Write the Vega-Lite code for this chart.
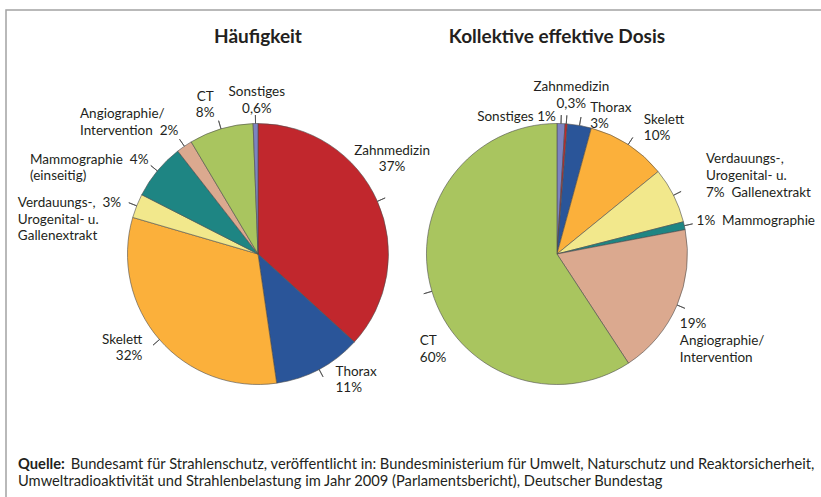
{
  "$schema": "https://vega.github.io/schema/vega-lite/v6.json",
  "width": 821,
  "height": 497,
  "autosize": {"type": "fit", "contains": "padding"},
  "padding": {"left": 6, "top": 10, "right": -3, "bottom": -1},
  "background": "white",
  "config": {"view": {"stroke": "#a3a3a3", "strokeWidth": 1.5}, "font": "Lato"},
  "title": {
    "text": "Quelle:",
    "subtitle": ["\u200b\u00a0\u00a0\u00a0\u00a0\u00a0\u00a0\u00a0\u00a0\u00a0\u00a0\u00a0\u00a0\u00a0\u00a0Bundesamt für Strahlenschutz, veröffentlicht in: Bundesministerium für Umwelt, Naturschutz und Reaktorsicherheit,", "Umweltradioaktivität und Strahlenbelastung im Jahr 2009 (Parlamentsbericht), Deutscher Bundestag"],
    "orient": "bottom",
    "anchor": "start",
    "frame": "group",
    "offset": -41,
    "dx": 12,
    "font": "Lato",
    "fontSize": 14.7,
    "fontWeight": "bold",
    "color": "#231f20",
    "lineHeight": 17,
    "subtitleFont": "Lato",
    "subtitleFontSize": 14.7,
    "subtitleFontWeight": "normal",
    "subtitleColor": "#231f20",
    "subtitleLineHeight": 17,
    "subtitlePadding": -14.7
  },
  "data": {
    "values": [
      {"diagramm": "Häufigkeit", "kategorie": "Zahnmedizin", "anteil": 37, "reihenfolge": 1, "beschriftung": "Zahnmedizin\n37%"},
      {"diagramm": "Häufigkeit", "kategorie": "Thorax", "anteil": 11, "reihenfolge": 2, "beschriftung": "Thorax\n11%"},
      {"diagramm": "Häufigkeit", "kategorie": "Skelett", "anteil": 32, "reihenfolge": 3, "beschriftung": "Skelett\n32%"},
      {"diagramm": "Häufigkeit", "kategorie": "Verdauungs-, Urogenital- u. Gallenextrakt", "anteil": 3, "reihenfolge": 4, "beschriftung": "Verdauungs-,\u00a0 3%\nUrogenital- u.\nGallenextrakt"},
      {"diagramm": "Häufigkeit", "kategorie": "Mammographie", "anteil": 7, "reihenfolge": 5, "beschriftung": "Mammographie\u00a0 4%\n(einseitig)"},
      {"diagramm": "Häufigkeit", "kategorie": "Angiographie/Intervention", "anteil": 2, "reihenfolge": 6, "beschriftung": "Angiographie/\nIntervention\u00a0 2%"},
      {"diagramm": "Häufigkeit", "kategorie": "CT", "anteil": 8, "reihenfolge": 7, "beschriftung": "CT\n8%"},
      {"diagramm": "Häufigkeit", "kategorie": "Sonstiges", "anteil": 0.6, "reihenfolge": 8, "beschriftung": "Sonstiges\n0,6%"},
      {"diagramm": "Kollektive effektive Dosis", "kategorie": "Sonstiges", "anteil": 1, "reihenfolge": 1, "beschriftung": "Sonstiges 1%"},
      {"diagramm": "Kollektive effektive Dosis", "kategorie": "Zahnmedizin", "anteil": 0.3, "reihenfolge": 2, "beschriftung": "Zahnmedizin\n0,3%"},
      {"diagramm": "Kollektive effektive Dosis", "kategorie": "Thorax", "anteil": 3, "reihenfolge": 3, "beschriftung": "Thorax\n3%"},
      {"diagramm": "Kollektive effektive Dosis", "kategorie": "Skelett", "anteil": 10, "reihenfolge": 4, "beschriftung": "Skelett\n10%"},
      {"diagramm": "Kollektive effektive Dosis", "kategorie": "Verdauungs-, Urogenital- u. Gallenextrakt", "anteil": 7, "reihenfolge": 5, "beschriftung": "Verdauungs-,\nUrogenital- u.\n7%\u00a0 Gallenextrakt"},
      {"diagramm": "Kollektive effektive Dosis", "kategorie": "Mammographie", "anteil": 1, "reihenfolge": 6, "beschriftung": "1%\u00a0 Mammographie"},
      {"diagramm": "Kollektive effektive Dosis", "kategorie": "Angiographie/Intervention", "anteil": 19, "reihenfolge": 7, "beschriftung": "19%\nAngiographie/\nIntervention"},
      {"diagramm": "Kollektive effektive Dosis", "kategorie": "CT", "anteil": 60, "reihenfolge": 8, "beschriftung": "CT\n60%"}
    ]
  },
  "resolve": {"scale": {"theta": "independent"}},
  "layer": [
    {
      "transform": [
        {"stack": "anteil", "groupby": ["diagramm"], "sort": [{"field": "reihenfolge", "order": "ascending"}], "offset": "normalize", "as": ["t0", "t1"]}
      ],
      "mark": {"type": "arc", "outerRadius": 130.5, "stroke": "#4d4d4d", "strokeWidth": 0.6},
      "encoding": {
        "x": {"field": "diagramm", "type": "nominal", "scale": {"type": "point", "domain": ["Häufigkeit", "Kollektive effektive Dosis"], "padding": 0.868, "align": 0.4855}, "axis": null},
        "theta": {"field": "t0", "type": "quantitative", "stack": null, "scale": {"domain": [0, 1]}},
        "theta2": {"field": "t1"},
        "color": {
          "field": "kategorie",
          "type": "nominal",
          "scale": {
            "domain": ["Zahnmedizin", "Thorax", "Skelett", "Verdauungs-, Urogenital- u. Gallenextrakt", "Mammographie", "Angiographie/Intervention", "CT", "Sonstiges"],
            "range": ["#c1272d", "#2a5599", "#fbb03b", "#f2e88c", "#1e8583", "#dba98f", "#a9c55f", "#7c83c0"]
          },
          "legend": null
        }
      }
    },
    {
      "data": {"values": [{"diagramm": "Häufigkeit"}, {"diagramm": "Kollektive effektive Dosis"}]},
      "mark": {"type": "text", "theta": 0, "radius": 211.5, "baseline": "alphabetic", "align": "center", "fontSize": 19, "fontWeight": "bold", "color": "#231f20"},
      "encoding": {
        "x": {"field": "diagramm", "type": "nominal", "scale": {"type": "point", "domain": ["Häufigkeit", "Kollektive effektive Dosis"], "padding": 0.868, "align": 0.4855}, "axis": null},
        "text": {"field": "diagramm"}
      }
    },
    {
      "transform": [
        {"stack": "anteil", "groupby": ["diagramm"], "sort": [{"field": "reihenfolge", "order": "ascending"}], "offset": "normalize", "as": ["t0", "t1"]},
        {"fold": ["t0", "t1"], "as": ["kante", "winkel"]},
        {"aggregate": [{"op": "sum", "field": "winkel", "as": "mitte2"}], "groupby": ["diagramm", "kategorie", "beschriftung"]}
      ],
      "encoding": {
        "x": {"field": "diagramm", "type": "nominal", "scale": {"type": "point", "domain": ["Häufigkeit", "Kollektive effektive Dosis"], "padding": 0.868, "align": 0.4855}, "axis": null},
        "theta": {"field": "mitte2", "type": "quantitative", "stack": null, "scale": {"domain": [0, 2]}}
      },
      "layer": [
        {
          "mark": {"type": "arc", "outerRadius": 139, "innerRadius": 130.5, "stroke": "#4d4d4d", "strokeWidth": 0.8, "fillOpacity": 0},
          "encoding": {"theta2": {"field": "mitte2"}}
        },
        {"transform": [{"filter": "datum.diagramm == 'Häufigkeit' && datum.kategorie == 'Zahnmedizin'"}], "mark": {"type": "text", "radius": 140, "align": "center", "baseline": "top", "dx": 6, "dy": -54, "fontSize": 13.5, "lineHeight": 16.5, "lineBreak": "\n", "color": "#231f20"}, "encoding": {"text": {"field": "beschriftung"}}},
        {"transform": [{"filter": "datum.diagramm == 'Häufigkeit' && datum.kategorie == 'Thorax'"}], "mark": {"type": "text", "radius": 140, "align": "left", "baseline": "top", "dx": 12, "dy": -13, "fontSize": 13.5, "lineHeight": 16.5, "lineBreak": "\n", "color": "#231f20"}, "encoding": {"text": {"field": "beschriftung"}}},
        {"transform": [{"filter": "datum.diagramm == 'Häufigkeit' && datum.kategorie == 'Skelett'"}], "mark": {"type": "text", "radius": 140, "align": "right", "baseline": "top", "dx": -10, "dy": -13, "fontSize": 13.5, "lineHeight": 16.5, "lineBreak": "\n", "color": "#231f20"}, "encoding": {"text": {"field": "beschriftung"}}},
        {"transform": [{"filter": "datum.diagramm == 'Häufigkeit' && datum.kategorie == 'Verdauungs-, Urogenital- u. Gallenextrakt'"}], "mark": {"type": "text", "radius": 140, "align": "left", "baseline": "top", "dx": -110, "dy": -6, "fontSize": 13.5, "lineHeight": 16.5, "lineBreak": "\n", "color": "#231f20"}, "encoding": {"text": {"field": "beschriftung"}}},
        {"transform": [{"filter": "datum.diagramm == 'Häufigkeit' && datum.kategorie == 'Mammographie'"}], "mark": {"type": "text", "radius": 140, "align": "left", "baseline": "top", "dx": -120, "dy": -12, "fontSize": 13.5, "lineHeight": 16.5, "lineBreak": "\n", "color": "#231f20"}, "encoding": {"text": {"field": "beschriftung"}}},
        {"transform": [{"filter": "datum.diagramm == 'Häufigkeit' && datum.kategorie == 'Angiographie/Intervention'"}], "mark": {"type": "text", "radius": 140, "align": "left", "baseline": "top", "dx": -99, "dy": -31, "fontSize": 13.5, "lineHeight": 16.5, "lineBreak": "\n", "color": "#231f20"}, "encoding": {"text": {"field": "beschriftung"}}},
        {"transform": [{"filter": "datum.diagramm == 'Häufigkeit' && datum.kategorie == 'CT'"}], "mark": {"type": "text", "radius": 160, "align": "center", "baseline": "top", "dx": -7.5, "dy": -11, "fontSize": 13.5, "lineHeight": 16.5, "lineBreak": "\n", "color": "#231f20"}, "encoding": {"text": {"field": "beschriftung"}}},
        {"transform": [{"filter": "datum.diagramm == 'Häufigkeit' && datum.kategorie == 'Sonstiges'"}], "mark": {"type": "text", "radius": 168, "align": "center", "baseline": "top", "dx": 2, "dy": -1, "fontSize": 13.5, "lineHeight": 16.5, "lineBreak": "\n", "color": "#231f20"}, "encoding": {"text": {"field": "beschriftung"}}},
        {"transform": [{"filter": "datum.diagramm == 'Kollektive effektive Dosis' && datum.kategorie == 'Sonstiges'"}], "mark": {"type": "text", "radius": 140, "align": "right", "baseline": "top", "dx": -5.5, "dy": -4.5, "fontSize": 13.5, "lineHeight": 16.5, "lineBreak": "\n", "color": "#231f20"}, "encoding": {"text": {"field": "beschriftung"}}},
        {"transform": [{"filter": "datum.diagramm == 'Kollektive effektive Dosis' && datum.kategorie == 'Zahnmedizin'"}], "mark": {"type": "text", "radius": 173, "align": "center", "baseline": "top", "dx": 2, "dy": -1, "fontSize": 13.5, "lineHeight": 16.5, "lineBreak": "\n", "color": "#231f20"}, "encoding": {"text": {"field": "beschriftung"}}},
        {"transform": [{"filter": "datum.diagramm == 'Kollektive effektive Dosis' && datum.kategorie == 'Thorax'"}], "mark": {"type": "text", "radius": 140, "align": "left", "baseline": "top", "dx": 9, "dy": -15.5, "fontSize": 13.5, "lineHeight": 16.5, "lineBreak": "\n", "color": "#231f20"}, "encoding": {"text": {"field": "beschriftung"}}},
        {"transform": [{"filter": "datum.diagramm == 'Kollektive effektive Dosis' && datum.kategorie == 'Skelett'"}], "mark": {"type": "text", "radius": 140, "align": "left", "baseline": "top", "dx": 10.5, "dy": -24, "fontSize": 13.5, "lineHeight": 16.5, "lineBreak": "\n", "color": "#231f20"}, "encoding": {"text": {"field": "beschriftung"}}},
        {"transform": [{"filter": "datum.diagramm == 'Kollektive effektive Dosis' && datum.kategorie == 'Verdauungs-, Urogenital- u. Gallenextrakt'"}], "mark": {"type": "text", "radius": 140, "align": "left", "baseline": "top", "dx": 24, "dy": -39.5, "fontSize": 13.5, "lineHeight": 17, "lineBreak": "\n", "color": "#231f20"}, "encoding": {"text": {"field": "beschriftung"}}},
        {"transform": [{"filter": "datum.diagramm == 'Kollektive effektive Dosis' && datum.kategorie == 'Mammographie'"}], "mark": {"type": "text", "radius": 143, "align": "left", "baseline": "top", "dx": 0, "dy": -8.5, "fontSize": 13.5, "lineHeight": 16.5, "lineBreak": "\n", "color": "#231f20"}, "encoding": {"text": {"field": "beschriftung"}}},
        {"transform": [{"filter": "datum.diagramm == 'Kollektive effektive Dosis' && datum.kategorie == 'Angiographie/Intervention'"}], "mark": {"type": "text", "radius": 140, "align": "left", "baseline": "top", "dx": -6, "dy": 8, "fontSize": 13.5, "lineHeight": 17, "lineBreak": "\n", "color": "#231f20"}, "encoding": {"text": {"field": "beschriftung"}}},
        {"transform": [{"filter": "datum.diagramm == 'Kollektive effektive Dosis' && datum.kategorie == 'CT'"}], "mark": {"type": "text", "radius": 140, "align": "left", "baseline": "top", "dx": -3, "dy": 40, "fontSize": 13.5, "lineHeight": 16.5, "lineBreak": "\n", "color": "#231f20"}, "encoding": {"text": {"field": "beschriftung"}}}
      ]
    }
  ]
}
